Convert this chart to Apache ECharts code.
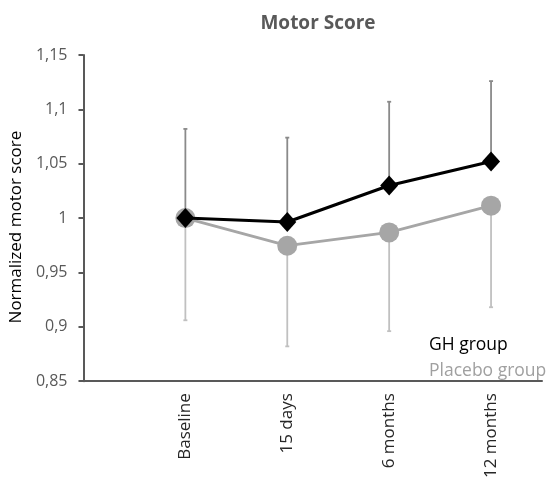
<!DOCTYPE html>
<html><head><meta charset="utf-8">
<script src="https://cdn.jsdelivr.net/npm/echarts@6/dist/echarts.min.js"></script>
<style>html,body{margin:0;padding:0;background:#fff}#c{width:550px;height:481px}</style>
</head><body><div id="c"></div>
<script>
var categories = ['Baseline', '15 days', '6 months', '12 months'];
var ghMean = [1.000, 0.9964, 1.030, 1.052];
var placeboMean = [1.000, 0.9746, 0.9868, 1.0114];
var ghUpper = [1.082, 1.074, 1.107, 1.126];
var placeboLower = [0.906, 0.882, 0.896, 0.918];
var yTicks = [0.85, 0.9, 0.95, 1, 1.05, 1.1, 1.15];

function pts(arr){ return arr.map(function(v,i){ return [i+1, v]; }); }
function bars(from, to){ return from.map(function(v,i){ return [i+1, v, to[i]]; }); }

function errRender(color){
  return function(params, api){
    var x = api.value(0);
    var p1 = api.coord([x, api.value(1)]);
    var p2 = api.coord([x, api.value(2)]);
    var st = {stroke: color, lineWidth: 1.8};
    return {type:'group', children:[
      {type:'line', shape:{x1:p1[0], y1:p1[1], x2:p2[0], y2:p2[1]}, style:st},
      {type:'line', shape:{x1:p2[0]-2, y1:p2[1], x2:p2[0]+2, y2:p2[1]}, style:st}
    ]};
  };
}

var chart = echarts.init(document.getElementById('c'));
chart.setOption({
  animation:false,
  title:{text:'Motor Score', left:313, top:9, textAlign:'center',
    textStyle:{fontFamily:'Open Sans', fontSize:19, fontWeight:'bold', color:'#595959'}},
  legend:{orient:'vertical', left:424, top:331, itemWidth:0, itemHeight:0, itemGap:8,
    icon:'none', selectedMode:false,
    textStyle:{fontFamily:'Open Sans', fontSize:17.5, padding:[0,0,0,-5]},
    data:[{name:'GH group', textStyle:{color:'#000'}},{name:'Placebo group', textStyle:{color:'#a0a0a0'}}]},
  grid:{left:83, right:8, top:55, bottom:93},
  xAxis:{type:'value', min:0, max:4.5, interval:1,
    axisLine:{show:true, lineStyle:{color:'#595959', width:2}},
    axisTick:{show:false}, splitLine:{show:false},
    axisLabel:{rotate:90, margin:12, fontFamily:'Open Sans', fontSize:17, color:'#262626',
      showMaxLabel:false,
      formatter:function(v){ var i = Math.round(v)-1; return (i>=0 && i<categories.length) ? categories[i] : ''; }}},
  yAxis:{type:'value', min:0.85, max:1.15, interval:0.05,
    name:'Normalized motor score', nameLocation:'middle', nameGap:56, nameRotate:90,
    nameTextStyle:{fontFamily:'Open Sans', fontSize:17, color:'#000', padding:[0,18,0,0]},
    axisLine:{show:true, lineStyle:{color:'#595959', width:2}},
    axisTick:{show:true, length:5, lineStyle:{color:'#595959', width:2}},
    splitLine:{show:false},
    axisLabel:{margin:16, fontFamily:'Open Sans', fontSize:16, color:'#595959',
      formatter:function(v){ return String(+v.toFixed(2)).replace('.', ','); }}},
  series:[
    {type:'custom', name:'ghErr', z:1, renderItem:errRender('#8a8a8a'), data:bars(ghMean, ghUpper), silent:true},
    {type:'custom', name:'plErr', z:1, renderItem:errRender('#c0c0c0'), data:bars(placeboMean, placeboLower), silent:true},
    {type:'line', name:'Placebo group', z:3, data:pts(placeboMean), symbol:'circle', symbolSize:20,
      lineStyle:{color:'#a6a6a6', width:2.8}, itemStyle:{color:'#a6a6a6'}},
    {type:'line', name:'GH group', z:4, data:pts(ghMean), symbol:'diamond', symbolSize:[18,20],
      lineStyle:{color:'#000', width:3}, itemStyle:{color:'#000'}}
  ]
});
</script></body></html>
